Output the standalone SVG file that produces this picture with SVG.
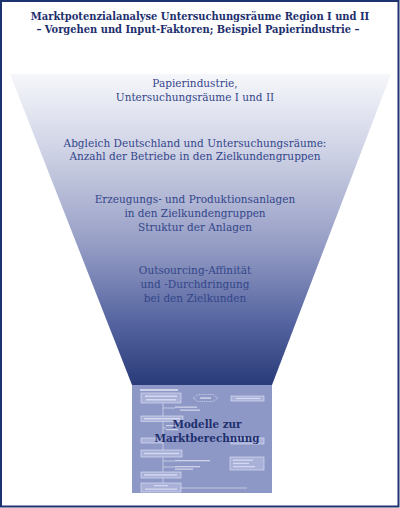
<svg xmlns="http://www.w3.org/2000/svg" width="400" height="508" viewBox="0 0 400 508">
<defs>
<linearGradient id="fg" x1="0" y1="74" x2="0" y2="385" gradientUnits="userSpaceOnUse">
<stop offset="0" stop-color="#f6f7fb"/>
<stop offset="0.28" stop-color="#c9cde2"/>
<stop offset="0.55" stop-color="#959dc5"/>
<stop offset="0.8" stop-color="#5564a0"/>
<stop offset="1" stop-color="#293b79"/>
</linearGradient>
<style>
.title{font-family:"DejaVu Serif Condensed","DejaVu Serif",serif;font-weight:bold;font-size:11px;fill:#1e2f6e;text-anchor:middle}
.step{font-family:"DejaVu Serif","Liberation Serif",serif;font-size:10.5px;fill:#33468a;text-anchor:middle}
.model{font-family:"DejaVu Serif Condensed","DejaVu Serif",serif;font-weight:bold;font-size:11.5px;fill:#1e2f6e;text-anchor:middle}
.tb{fill:#a9b1d9;stroke:#e2e5f4;stroke-width:0.6}
.tl{stroke:#e8eaf6;stroke-width:0.6;fill:none}
.tx{fill:#e4e7f5;opacity:0.75}
</style>
</defs>
<rect x="1" y="1" width="397.5" height="505.5" fill="#ffffff" stroke="#1e3270" stroke-width="2"/>
<g id="title">
<text class="title" x="200" y="20">Marktpotenzialanalyse Untersuchungsräume Region I und II</text>
<text class="title" x="198" y="33">– Vorgehen und Input-Faktoren; Beispiel Papierindustrie –</text>
</g>
<g id="funnel">
<polygon points="10,74 391,74 272,385 132,385" fill="url(#fg)"/>
</g>
<g id="step1">
<text class="step" x="195" y="87">Papierindustrie,</text>
<text class="step" x="195" y="101">Untersuchungsräume I und II</text>
</g>
<g id="step2">
<text class="step" x="195" y="147">Abgleich Deutschland und Untersuchungsräume:</text>
<text class="step" x="195" y="160">Anzahl der Betriebe in den Zielkundengruppen</text>
</g>
<g id="step3">
<text class="step" x="195" y="203">Erzeugungs- und Produktionsanlagen</text>
<text class="step" x="195" y="217">in den Zielkundengruppen</text>
<text class="step" x="195" y="231">Struktur der Anlagen</text>
</g>
<g id="step4">
<text class="step" x="195" y="274">Outsourcing-Affinität</text>
<text class="step" x="195" y="288">und -Durchdringung</text>
<text class="step" x="195" y="302">bei den Zielkunden</text>
</g>
<g id="thumbnail">
<rect x="132" y="385" width="140" height="108" fill="#8e98c6"/>
<rect class="tx" x="140" y="389" width="38" height="2"/>
<rect class="tb" x="141" y="393" width="40" height="10"/>
<rect class="tx" x="145" y="395.5" width="32" height="1.5"/>
<rect class="tx" x="146" y="399" width="30" height="1.5"/>
<polygon class="tl" points="193,398 198,394.5 213,394.5 218,398 213,401.5 198,401.5" stroke-dasharray="1,0.8"/>
<rect class="tx" x="200" y="397.3" width="11" height="1.5"/>
<rect class="tb" x="231" y="396" width="33" height="5"/>
<rect class="tx" x="236" y="397.8" width="24" height="1.3"/>
<path class="tl" d="M163,403 V416 M163,408 H175 M163,421.5 V438 M163,428 H166 M163,443 V450 M163,457 V472 M163,461 H175 M163,467 H175 M163,478 V483 M181,488 H247"/>
<rect class="tx" x="175" y="406.5" width="22" height="1.3"/>
<rect class="tx" x="180" y="409.5" width="20" height="1.3"/>
<rect class="tb" x="141" y="416" width="42" height="5.5"/>
<rect class="tx" x="144" y="418" width="36" height="1.4"/>
<rect class="tx" x="166" y="425" width="12" height="1.2"/>
<rect class="tx" x="166" y="429" width="12" height="1.2"/>
<rect class="tb" x="141" y="438" width="22" height="5"/>
<rect class="tb" x="231" y="438" width="33" height="6"/>
<rect class="tb" x="141" y="450" width="41" height="7"/>
<rect class="tx" x="144" y="452.8" width="35" height="1.4"/>
<rect class="tx" x="175" y="460" width="35" height="1.3"/>
<rect class="tx" x="175" y="466" width="25" height="1.3"/>
<rect class="tx" x="175" y="468.5" width="18" height="1.3"/>
<rect class="tb" x="230" y="457" width="34" height="13"/>
<rect class="tx" x="233" y="459.5" width="20" height="1.3"/>
<rect class="tx" x="233" y="462.8" width="16" height="1.3"/>
<rect class="tx" x="233" y="466" width="22" height="1.3"/>
<rect class="tb" x="141" y="472" width="40" height="6"/>
<rect class="tx" x="144" y="474.3" width="33" height="1.4"/>
<rect class="tb" x="141" y="483" width="40" height="9"/>
<rect class="tx" x="154" y="485" width="14" height="1.3"/>
<rect class="tx" x="145" y="488.5" width="32" height="1.3"/>
</g>
<g id="model">
<text class="model" x="207" y="428">Modelle zur</text>
<text class="model" x="207" y="442">Marktberechnung</text>
</g>
<g id="connectors"/>
</svg>
